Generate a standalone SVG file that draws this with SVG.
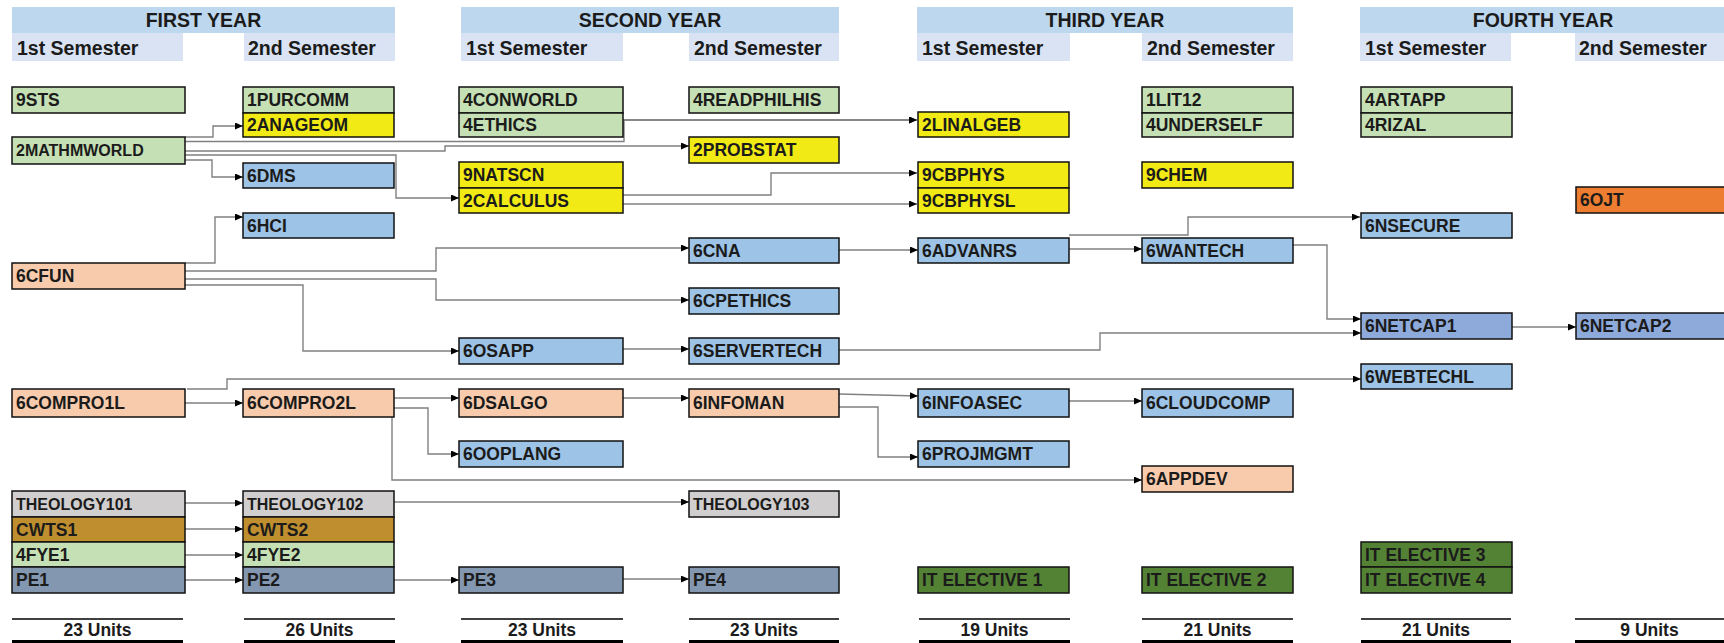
<svg xmlns="http://www.w3.org/2000/svg" width="1724" height="643" viewBox="0 0 1724 643">
<style>
.hdr{fill:#bdd7ee}
.sub{fill:#dae3f3}
.ht{font-family:"Liberation Sans",Arial,sans-serif;font-weight:bold;font-size:19.5px;fill:#1b1b1b}
.n rect{stroke:#111;stroke-width:1.5}
.n text{font-family:"Liberation Sans",Arial,sans-serif;font-weight:bold;font-size:17.5px;fill:#1b1b1b}
.n text.s{font-size:16px}
.g{fill:#c5e0b4}.y{fill:#f2ea14}.b{fill:#9dc3e6}.p{fill:#f8cbad}.o{fill:#ed7d31}
.gr{fill:#d0cece}.br{fill:#bf8f2f}.sl{fill:#8497b0}.nb{fill:#8eaadb}.dg{fill:#548235}
.c path{fill:none;stroke:#808080;stroke-width:1.4;marker-end:url(#ah)}
.u line{stroke:#000}
.u text{font-family:"Liberation Sans",Arial,sans-serif;font-weight:bold;font-size:17.5px;fill:#1b1b1b;text-anchor:middle}
</style>
<defs>
<marker id="ah" markerUnits="userSpaceOnUse" markerWidth="9" markerHeight="8" refX="8" refY="3.5" orient="auto">
<path d="M0,0 L8,3.5 L0,7 z" fill="#000"/>
</marker>
</defs>
<rect width="1724" height="643" fill="#fff"/>

<g id="headers">
<rect class="hdr" x="12" y="7" width="383" height="26"/>
<rect class="sub" x="12" y="33" width="171" height="28"/>
<rect class="sub" x="244" y="33" width="151" height="28"/>
<text class="ht" x="203.5" y="27" text-anchor="middle">FIRST YEAR</text>
<text class="ht" x="17" y="55">1st Semester</text>
<text class="ht" x="248" y="55">2nd Semester</text>

<rect class="hdr" x="461" y="7" width="378" height="26"/>
<rect class="sub" x="461" y="33" width="162" height="28"/>
<rect class="sub" x="689" y="33" width="150" height="28"/>
<text class="ht" x="650" y="27" text-anchor="middle">SECOND YEAR</text>
<text class="ht" x="466" y="55">1st Semester</text>
<text class="ht" x="694" y="55">2nd Semester</text>

<rect class="hdr" x="917" y="7" width="376" height="26"/>
<rect class="sub" x="917" y="33" width="153" height="28"/>
<rect class="sub" x="1142" y="33" width="151" height="28"/>
<text class="ht" x="1105" y="27" text-anchor="middle">THIRD YEAR</text>
<text class="ht" x="922" y="55">1st Semester</text>
<text class="ht" x="1147" y="55">2nd Semester</text>

<rect class="hdr" x="1360" y="7" width="364" height="26"/>
<rect class="sub" x="1360" y="33" width="151" height="28"/>
<rect class="sub" x="1575" y="33" width="149" height="28"/>
<text class="ht" x="1543" y="27" text-anchor="middle">FOURTH YEAR</text>
<text class="ht" x="1365" y="55">1st Semester</text>
<text class="ht" x="1579" y="55">2nd Semester</text>
</g>

<g id="connectors" class="c">
<path d="M185,137 H213 V126 H243"/>
<path d="M185,141.5 H624 V120 H917"/>
<path d="M623,120 H917"/>
<path d="M185,151 H445 V146 H689"/>
<path d="M185,155 H396 V198 H459"/>
<path d="M185,160 H212 V177 H243"/>
<path d="M185,263 H215 V217 H243"/>
<path d="M185,271 H436 V248 H689"/>
<path d="M185,279 H436 V300 H689"/>
<path d="M185,285 H303 V351 H459"/>
<path d="M623,349 H689"/>
<path d="M839,350 H1100 V333 H1361"/>
<path d="M839,250 H918"/>
<path d="M1069,249 H1142"/>
<path d="M1069,235 H1188 V217 H1360"/>
<path d="M1293,245 H1327 V319 H1361"/>
<path d="M1512,327 H1576"/>
<path d="M623,195 H771 V173 H917"/>
<path d="M623,204 H917"/>
<path d="M187,389 H227 V379 H1361"/>
<path d="M185,403 H243"/>
<path d="M394,398 H459"/>
<path d="M394,408 H428 V454 H459"/>
<path d="M392,417 V480 H1142"/>
<path d="M623,398 H689"/>
<path d="M839,394 L918,396"/>
<path d="M839,407 H878 V457 H918"/>
<path d="M1069,401 H1142"/>
<path d="M185,503 H243"/>
<path d="M185,529 H243"/>
<path d="M185,555 H243"/>
<path d="M185,580 H243"/>
<path d="M394,502 H689"/>
<path d="M394,580 H459"/>
<path d="M623,579 H689"/>
</g>

<g id="n-9STS" class="n"><rect class="g" x="12" y="87" width="173" height="26"/><text x="16" y="106">9STS</text></g>
<g id="n-2MATHMWORLD" class="n"><rect class="g" x="12" y="137" width="173" height="27"/><text class="s" x="16" y="156">2MATHMWORLD</text></g>
<g id="n-6CFUN" class="n"><rect class="p" x="12" y="263" width="173" height="26"/><text x="16" y="282">6CFUN</text></g>
<g id="n-6COMPRO1L" class="n"><rect class="p" x="12" y="389" width="173" height="28"/><text x="16" y="409">6COMPRO1L</text></g>
<g id="n-THEOLOGY101" class="n"><rect class="gr" x="12" y="491" width="173" height="26"/><text class="s" x="16" y="510">THEOLOGY101</text></g>
<g id="n-CWTS1" class="n"><rect class="br" x="12" y="517" width="173" height="25"/><text x="16" y="536">CWTS1</text></g>
<g id="n-4FYE1" class="n"><rect class="g" x="12" y="542" width="173" height="25"/><text x="16" y="561">4FYE1</text></g>
<g id="n-PE1" class="n"><rect class="sl" x="12" y="567" width="173" height="26"/><text x="16" y="586">PE1</text></g>

<g id="n-1PURCOMM" class="n"><rect class="g" x="243" y="87" width="151" height="26"/><text x="247" y="106">1PURCOMM</text></g>
<g id="n-2ANAGEOM" class="n"><rect class="y" x="243" y="113" width="151" height="24"/><text x="247" y="131">2ANAGEOM</text></g>
<g id="n-6DMS" class="n"><rect class="b" x="243" y="163" width="151" height="25"/><text x="247" y="182">6DMS</text></g>
<g id="n-6HCI" class="n"><rect class="b" x="243" y="213" width="151" height="25"/><text x="247" y="232">6HCI</text></g>
<g id="n-6COMPRO2L" class="n"><rect class="p" x="243" y="389" width="151" height="28"/><text x="247" y="409">6COMPRO2L</text></g>
<g id="n-THEOLOGY102" class="n"><rect class="gr" x="243" y="491" width="151" height="26"/><text class="s" x="247" y="510">THEOLOGY102</text></g>
<g id="n-CWTS2" class="n"><rect class="br" x="243" y="517" width="151" height="25"/><text x="247" y="536">CWTS2</text></g>
<g id="n-4FYE2" class="n"><rect class="g" x="243" y="542" width="151" height="25"/><text x="247" y="561">4FYE2</text></g>
<g id="n-PE2" class="n"><rect class="sl" x="243" y="567" width="151" height="26"/><text x="247" y="586">PE2</text></g>

<g id="n-4CONWORLD" class="n"><rect class="g" x="459" y="87" width="164" height="26"/><text x="463" y="106">4CONWORLD</text></g>
<g id="n-4ETHICS" class="n"><rect class="g" x="459" y="113" width="164" height="24"/><text x="463" y="131">4ETHICS</text></g>
<g id="n-9NATSCN" class="n"><rect class="y" x="459" y="162" width="164" height="26"/><text x="463" y="181">9NATSCN</text></g>
<g id="n-2CALCULUS" class="n"><rect class="y" x="459" y="188" width="164" height="25"/><text x="463" y="207">2CALCULUS</text></g>
<g id="n-6OSAPP" class="n"><rect class="b" x="459" y="338" width="164" height="26"/><text x="463" y="357">6OSAPP</text></g>
<g id="n-6DSALGO" class="n"><rect class="p" x="459" y="389" width="164" height="28"/><text x="463" y="409">6DSALGO</text></g>
<g id="n-6OOPLANG" class="n"><rect class="b" x="459" y="441" width="164" height="26"/><text x="463" y="460">6OOPLANG</text></g>
<g id="n-PE3" class="n"><rect class="sl" x="459" y="567" width="164" height="26"/><text x="463" y="586">PE3</text></g>

<g id="n-4READPHILHIS" class="n"><rect class="g" x="689" y="87" width="150" height="26"/><text x="693" y="106">4READPHILHIS</text></g>
<g id="n-2PROBSTAT" class="n"><rect class="y" x="689" y="137" width="150" height="26"/><text x="693" y="156">2PROBSTAT</text></g>
<g id="n-6CNA" class="n"><rect class="b" x="689" y="238" width="150" height="25"/><text x="693" y="257">6CNA</text></g>
<g id="n-6CPETHICS" class="n"><rect class="b" x="689" y="288" width="150" height="26"/><text x="693" y="307">6CPETHICS</text></g>
<g id="n-6SERVERTECH" class="n"><rect class="b" x="689" y="338" width="150" height="26"/><text x="693" y="357">6SERVERTECH</text></g>
<g id="n-6INFOMAN" class="n"><rect class="p" x="689" y="389" width="150" height="28"/><text x="693" y="409">6INFOMAN</text></g>
<g id="n-THEOLOGY103" class="n"><rect class="gr" x="689" y="491" width="150" height="26"/><text class="s" x="693" y="510">THEOLOGY103</text></g>
<g id="n-PE4" class="n"><rect class="sl" x="689" y="567" width="150" height="26"/><text x="693" y="586">PE4</text></g>

<g id="n-2LINALGEB" class="n"><rect class="y" x="918" y="112" width="151" height="25"/><text x="922" y="131">2LINALGEB</text></g>
<g id="n-9CBPHYS" class="n"><rect class="y" x="918" y="162" width="151" height="26"/><text x="922" y="181">9CBPHYS</text></g>
<g id="n-9CBPHYSL" class="n"><rect class="y" x="918" y="188" width="151" height="25"/><text x="922" y="207">9CBPHYSL</text></g>
<g id="n-6ADVANRS" class="n"><rect class="b" x="918" y="238" width="151" height="25"/><text x="922" y="257">6ADVANRS</text></g>
<g id="n-6INFOASEC" class="n"><rect class="b" x="918" y="389" width="151" height="28"/><text x="922" y="409">6INFOASEC</text></g>
<g id="n-6PROJMGMT" class="n"><rect class="b" x="918" y="441" width="151" height="26"/><text x="922" y="460">6PROJMGMT</text></g>
<g id="n-ITELECTIVE1" class="n"><rect class="dg" x="918" y="567" width="151" height="26"/><text x="922" y="586">IT ELECTIVE 1</text></g>

<g id="n-1LIT12" class="n"><rect class="g" x="1142" y="87" width="151" height="26"/><text x="1146" y="106">1LIT12</text></g>
<g id="n-4UNDERSELF" class="n"><rect class="g" x="1142" y="113" width="151" height="24"/><text x="1146" y="131">4UNDERSELF</text></g>
<g id="n-9CHEM" class="n"><rect class="y" x="1142" y="162" width="151" height="26"/><text x="1146" y="181">9CHEM</text></g>
<g id="n-6WANTECH" class="n"><rect class="b" x="1142" y="238" width="151" height="25"/><text x="1146" y="257">6WANTECH</text></g>
<g id="n-6CLOUDCOMP" class="n"><rect class="b" x="1142" y="389" width="151" height="28"/><text x="1146" y="409">6CLOUDCOMP</text></g>
<g id="n-6APPDEV" class="n"><rect class="p" x="1142" y="466" width="151" height="26"/><text x="1146" y="485">6APPDEV</text></g>
<g id="n-ITELECTIVE2" class="n"><rect class="dg" x="1142" y="567" width="151" height="26"/><text x="1146" y="586">IT ELECTIVE 2</text></g>

<g id="n-4ARTAPP" class="n"><rect class="g" x="1361" y="87" width="151" height="26"/><text x="1365" y="106">4ARTAPP</text></g>
<g id="n-4RIZAL" class="n"><rect class="g" x="1361" y="113" width="151" height="24"/><text x="1365" y="131">4RIZAL</text></g>
<g id="n-6NSECURE" class="n"><rect class="b" x="1361" y="213" width="151" height="25"/><text x="1365" y="232">6NSECURE</text></g>
<g id="n-6NETCAP1" class="n"><rect class="nb" x="1361" y="313" width="151" height="26"/><text x="1365" y="332">6NETCAP1</text></g>
<g id="n-6WEBTECHL" class="n"><rect class="b" x="1361" y="364" width="151" height="25"/><text x="1365" y="383">6WEBTECHL</text></g>
<g id="n-ITELECTIVE3" class="n"><rect class="dg" x="1361" y="542" width="151" height="25"/><text x="1365" y="561">IT ELECTIVE 3</text></g>
<g id="n-ITELECTIVE4" class="n"><rect class="dg" x="1361" y="567" width="151" height="26"/><text x="1365" y="586">IT ELECTIVE 4</text></g>

<g id="n-6OJT" class="n"><rect class="o" x="1576" y="187" width="160" height="26"/><text x="1580" y="206">6OJT</text></g>
<g id="n-6NETCAP2" class="n"><rect class="nb" x="1576" y="313" width="160" height="26"/><text x="1580" y="332">6NETCAP2</text></g>

<g id="units" class="u">
<line x1="12" y1="619" x2="183" y2="619" stroke-width="1.5"/><rect x="12" y="640" width="171" height="3"/><text x="97.5" y="636">23 Units</text>
<line x1="244" y1="619" x2="395" y2="619" stroke-width="1.5"/><rect x="244" y="640" width="151" height="3"/><text x="319.5" y="636">26 Units</text>
<line x1="461" y1="619" x2="623" y2="619" stroke-width="1.5"/><rect x="461" y="640" width="162" height="3"/><text x="542" y="636">23 Units</text>
<line x1="689" y1="619" x2="839" y2="619" stroke-width="1.5"/><rect x="689" y="640" width="150" height="3"/><text x="764" y="636">23 Units</text>
<line x1="919" y1="619" x2="1070" y2="619" stroke-width="1.5"/><rect x="919" y="640" width="151" height="3"/><text x="994.5" y="636">19 Units</text>
<line x1="1142" y1="619" x2="1293" y2="619" stroke-width="1.5"/><rect x="1142" y="640" width="151" height="3"/><text x="1217.5" y="636">21 Units</text>
<line x1="1361" y1="619" x2="1511" y2="619" stroke-width="1.5"/><rect x="1361" y="640" width="150" height="3"/><text x="1436" y="636">21 Units</text>
<line x1="1575" y1="619" x2="1724" y2="619" stroke-width="1.5"/><rect x="1575" y="640" width="149" height="3"/><text x="1649.5" y="636">9 Units</text>
</g>
</svg>
